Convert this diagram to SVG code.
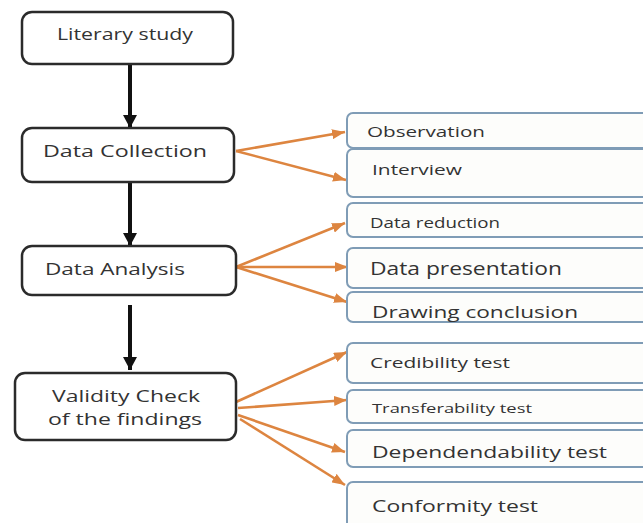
<svg xmlns="http://www.w3.org/2000/svg" width="643" height="523" viewBox="0 0 643 523">
<defs>
<style>
.main rect{fill:#ffffff;stroke:#2b2b2b;stroke-width:2.5}
.sub rect{fill:#fdfdfb;stroke:#7f9cb6;stroke-width:2}
text{font-family:"Open Sans","Noto Sans","Liberation Sans",sans-serif;fill:#333333}
.mt{font-size:17px;text-anchor:start}
.st{font-size:15px}
.black{stroke:#111111;stroke-width:4;fill:none}
.orange{stroke:#dd8540;stroke-width:2.6;fill:none}
</style>
<marker id="ah" markerUnits="userSpaceOnUse" markerWidth="14" markerHeight="14" refX="13" refY="7" orient="auto">
<path d="M0,0 L13,7 L0,14 z" fill="#111111"/>
</marker>
<marker id="oh" markerUnits="userSpaceOnUse" markerWidth="13" markerHeight="10" refX="13" refY="5" orient="auto">
<path d="M0,0 L13,5 L0,10 z" fill="#dd8540"/>
</marker>
</defs>
<rect width="643" height="523" fill="#ffffff"/>

<g id="connectors">
<line class="black" x1="130" y1="65" x2="130" y2="128" marker-end="url(#ah)"/>
<line class="black" x1="130" y1="182" x2="130" y2="246" marker-end="url(#ah)"/>
<line class="black" x1="130" y1="305" x2="130" y2="370" marker-end="url(#ah)"/>
<line class="orange" x1="236" y1="151" x2="345" y2="132" marker-end="url(#oh)"/>
<line class="orange" x1="236" y1="151" x2="346" y2="180" marker-end="url(#oh)"/>
<line class="orange" x1="236" y1="267" x2="345" y2="223" marker-end="url(#oh)"/>
<line class="orange" x1="236" y1="267" x2="348" y2="267" marker-end="url(#oh)"/>
<line class="orange" x1="236" y1="267" x2="347" y2="302" marker-end="url(#oh)"/>
<line class="orange" x1="236" y1="402" x2="347" y2="352" marker-end="url(#oh)"/>
<line class="orange" x1="238" y1="408" x2="347" y2="400" marker-end="url(#oh)"/>
<line class="orange" x1="238" y1="415" x2="345" y2="452" marker-end="url(#oh)"/>
<line class="orange" x1="240" y1="419" x2="345" y2="485" marker-end="url(#oh)"/>
</g>

<g id="literary-study" class="main">
<rect x="22" y="12" width="211" height="52" rx="10"/>
<text class="mt" x="57" y="40" textLength="136" lengthAdjust="spacingAndGlyphs">Literary study</text>
</g>
<g id="data-collection" class="main">
<rect x="22" y="128" width="212" height="54" rx="10"/>
<text class="mt" x="43" y="157" textLength="164" lengthAdjust="spacingAndGlyphs">Data Collection</text>
</g>
<g id="data-analysis" class="main">
<rect x="22" y="246" width="214" height="49" rx="10"/>
<text class="mt" x="45" y="275" textLength="140" lengthAdjust="spacingAndGlyphs">Data Analysis</text>
</g>
<g id="validity-check" class="main">
<rect x="15" y="373" width="221" height="67" rx="10"/>
<text class="mt" x="52" y="402" textLength="148" lengthAdjust="spacingAndGlyphs">Validity Check</text>
<text class="mt" x="48" y="425" textLength="154" lengthAdjust="spacingAndGlyphs">of the findings</text>
</g>

<g id="observation" class="sub">
<rect x="347" y="113" width="310" height="35" rx="6"/>
<text class="st" x="367" y="137" textLength="118" lengthAdjust="spacingAndGlyphs">Observation</text>
</g>
<g id="interview" class="sub">
<rect x="347" y="149" width="310" height="48" rx="6"/>
<text class="st" x="372" y="175" textLength="90" lengthAdjust="spacingAndGlyphs">Interview</text>
</g>
<g id="data-reduction" class="sub">
<rect x="347" y="203" width="310" height="34" rx="6"/>
<text class="st" x="370" y="228" style="font-size:14px" textLength="130" lengthAdjust="spacingAndGlyphs">Data reduction</text>
</g>
<g id="data-presentation" class="sub">
<rect x="347" y="248" width="310" height="40" rx="6"/>
<text class="st" x="370" y="275" style="font-size:18px" textLength="192" lengthAdjust="spacingAndGlyphs">Data presentation</text>
</g>
<g id="drawing-conclusion" class="sub">
<rect x="347" y="292" width="310" height="30" rx="6"/>
<text class="st" x="372" y="318" style="font-size:17px" textLength="206" lengthAdjust="spacingAndGlyphs">Drawing conclusion</text>
</g>
<g id="credibility-test" class="sub">
<rect x="347" y="343" width="310" height="40" rx="6"/>
<text class="st" x="370" y="368" textLength="140" lengthAdjust="spacingAndGlyphs">Credibility test</text>
</g>
<g id="transferability-test" class="sub">
<rect x="347" y="390" width="310" height="33" rx="6"/>
<text class="st" x="372" y="413" style="font-size:13px" textLength="160" lengthAdjust="spacingAndGlyphs">Transferability test</text>
</g>
<g id="dependendability-test" class="sub">
<rect x="347" y="430" width="310" height="37" rx="6"/>
<text class="st" x="372" y="458" style="font-size:17px" textLength="235" lengthAdjust="spacingAndGlyphs">Dependendability test</text>
</g>
<g id="conformity-test" class="sub">
<rect x="347" y="482" width="310" height="60" rx="6"/>
<text class="st" x="372" y="512" style="font-size:17px" textLength="166" lengthAdjust="spacingAndGlyphs">Conformity test</text>
</g>
</svg>
